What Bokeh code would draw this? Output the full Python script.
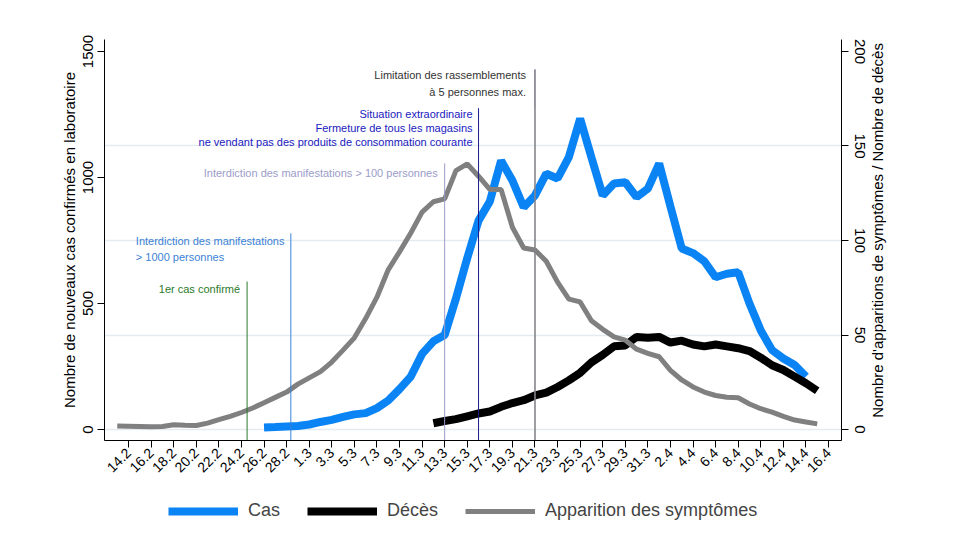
import math
import pandas as pd
from bokeh.plotting import figure
from bokeh.layouts import column, row
from bokeh.models import ColumnDataSource, Range1d, LinearAxis, FixedTicker, Legend, LegendItem
from bokeh.core.properties import value
from bokeh.embed import file_html
from bokeh.resources import INLINE

FONT = "Liberation Sans"

# ---------------- data ----------------
first_date = "2020-02-13"
last_date = "2020-04-15"
origin_date = "2020-02-14"

cas = [None] * 13 + [
    8, 10, 12, 14, 20, 30, 38, 50, 60, 65, 85, 115, 160, 210, 300, 350, 375,
    520, 680, 829, 905, 1067, 988, 882, 929, 1015, 996, 1081, 1234, 1080, 929,
    976, 981, 922, 956, 1055, 885, 718, 700, 668, 604, 618, 624, 500, 393, 315,
    282, 256, 210] + [None]

deces = [None] * 28 + [
    3.3, 4.5, 5.5, 7, 8.5, 9.5, 12, 14, 15.5, 18,
    19.5, 22.5, 26, 30, 35.5, 39.5, 44, 44.5, 49, 48.5,
    49, 46, 47, 45, 44, 45, 44, 43, 41.5, 38,
    34, 31.5, 28, 24.5, 20.5]

symptomes = [
    1.8, 1.7, 1.6, 1.5, 1.6, 2.5, 2.2, 2.1, 3.4, 5.2,
    7, 9, 11.4, 14.2, 17, 19.8, 24, 27.3, 30.6, 35.7,
    42, 48.5, 58.7, 70, 84.5, 94, 104, 115, 120.5, 122,
    137, 140.5, 134, 127, 127, 107, 96, 95, 89, 78,
    69, 67.5, 57.5, 53, 49, 47.3, 42.5, 40.3, 38.5, 31.3,
    26.2, 22.5, 19.8, 18, 17.1, 16.8, 13.5, 11, 9.2, 7,
    5, 4, 3]

tick_labels = ["14.2", "16.2", "18.2", "20.2", "22.2", "24.2", "26.2", "28.2",
               "1.3", "3.3", "5.3", "7.3", "9.3", "11.3", "13.3", "15.3",
               "17.3", "19.3", "21.3", "23.3", "25.3", "27.3", "29.3", "31.3",
               "2.4", "4.4", "6.4", "8.4", "10.4", "12.4", "14.4", "16.4"]

left_ticks = [0, 500, 1000, 1500]
right_ticks = [0, 50, 100, 150, 200]
grid_right_values = [0, 50, 100, 150]

left_title = "Nombre de nouveaux cas confirmés en laboratoire"
right_title = "Nombre d'apparitions de symptômes / Nombre de décès"

series_names = ["Cas", "Décès", "Apparition des symptômes"]
series_colors = ["#0a84f5", "black", "#808080"]
series_widths = [8, 8, 5]

event_dates = ["2020-02-24 12:00", "2020-02-28 09:00", "2020-03-13", "2020-03-16", "2020-03-21"]
event_tops = [587, 778, 1056, 1275, 1429]
event_colors = ["#2b7a2b", "#3b82d6", "#9c9cc9", "#1c1c8c", "#2e2e40"]

# ---------------- derived ----------------
dates = pd.date_range(first_date, last_date, freq="D")
origin = pd.Timestamp(origin_date)
day = [(d - origin).days for d in dates]
events_x = [(pd.Timestamp(e) - origin) / pd.Timedelta(days=1) for e in event_dates]

def nan(v):
    return [float("nan") if x is None else x for x in v]

src = ColumnDataSource(dict(day=day, cas=nan(cas), deces=nan(deces), sympt=nan(symptomes)))

RATIO = 7.5
y0, y1 = -43.6, 1547.6
p = figure(frame_width=737, frame_height=401, min_border_left=104, min_border_right=26,
           min_border_top=39, min_border_bottom=55,
           x_range=Range1d(-2.13, 63.15), y_range=Range1d(y0, y1),
           output_backend="svg", toolbar_location=None, background_fill_color="white",
           border_fill_color="white")
p.outline_line_color = None
p.extra_y_ranges = {"right": Range1d(y0 / RATIO, y1 / RATIO)}

# grid
p.xgrid.visible = False
p.ygrid.ticker = FixedTicker(ticks=[v * RATIO for v in grid_right_values])
p.ygrid.grid_line_color = "#e4ecef"
p.ygrid.grid_line_width = 1.5

# series
p.line("day", "cas", source=src, line_color=series_colors[0], line_width=series_widths[0])
p.line("day", "deces", source=src, line_color=series_colors[1], line_width=series_widths[1],
       y_range_name="right")
p.line("day", "sympt", source=src, line_color=series_colors[2], line_width=series_widths[2],
       y_range_name="right")

# event lines
p.segment(x0=events_x, y0=[y0] * len(events_x), x1=events_x, y1=event_tops,
          line_color=event_colors, line_width=1)
# lower part of the last line appears grey
p.segment(x0=[events_x[4]], y0=[y0], x1=[events_x[4]], y1=[event_tops[3]],
          line_color="#a4a4a4", line_width=1.2)

def ann(xs, ys, texts, color, align, xoff):
    p.text(x=xs, y=ys, text=texts, text_color=color, text_align=align, text_baseline="middle",
           text_font=value(FONT), text_font_size="11px", x_offset=xoff)

ann([events_x[0]], [557], ["1er cas confirmé"], "#2b7a2b", "right", -7)
ann([events_x[1]] * 2, [750, 683], ["Interdiction des manifestations", "> 1000 personnes"],
    "#3b82d6", "left", -155)
ann([events_x[2]], [1016], ["Interdiction des manifestations > 100 personnes"], "#9c9cc9", "right", -7)
ann([events_x[3]] * 3, [1253, 1196, 1140],
    ["Situation extraordinaire", "Fermeture de tous les magasins",
     "ne vendant pas des produits de consommation courante"], "#2020c0", "right", -6)
ann([events_x[4]] * 2, [1405, 1338], ["Limitation des rassemblements", "à 5 personnes max."],
    "#333333", "right", -9)

# axes
ax = p.xaxis[0]
ax.ticker = FixedTicker(ticks=list(range(0, 63, 2)))
ax.major_label_overrides = {t: lab for t, lab in zip(range(0, 63, 2), tick_labels)}
ax.major_label_orientation = math.pi / 4
ax.minor_tick_line_color = None
ax.major_tick_in = 0
ax.major_tick_out = 7
ax.major_label_text_font = FONT
ax.major_label_text_font_size = "14px"
ax.major_label_standoff = 3

ly = p.yaxis[0]
ly.ticker = FixedTicker(ticks=left_ticks)
ly.axis_label = left_title
ry = LinearAxis(y_range_name="right", ticker=FixedTicker(ticks=right_ticks))
p.add_layout(ry, "right")
for a in (ly, ry):
    a.major_label_orientation = "vertical"
    a.minor_tick_line_color = None
    a.major_tick_in = 0
    a.major_tick_out = 7
    a.major_label_text_font = FONT
    a.major_label_text_font_size = "15px"
    a.axis_label_text_font = FONT
    a.axis_label_text_font_size = "15px"
    a.axis_label_text_font_style = "normal"
    a.major_label_standoff = 4
    a.axis_label_standoff = 3
ry.major_label_standoff = 6
for a in (ax, ly, ry):
    a.axis_line_color = "black"
    a.major_tick_line_color = "black"
    a.major_label_text_color = "black"
    a.axis_label_text_color = "black"

# right-hand axis title, reading bottom to top, in a narrow strip beside the chart
rt = figure(frame_width=20, frame_height=401, min_border_left=0, min_border_right=0,
            min_border_top=39, min_border_bottom=55,
            x_range=Range1d(0, 1), y_range=Range1d(y0, y1),
            x_axis_type=None, y_axis_type=None, output_backend="svg", toolbar_location=None,
            background_fill_color="white", border_fill_color="white")
rt.outline_line_color = None
rt.grid.visible = False
rt.text(x=[0.5], y=[790], text=[right_title], angle=math.pi / 2, text_align="center",
        text_baseline="middle", text_font=value(FONT), text_font_size="15px", text_color="black")

# legend in its own strip below the chart (frame aligned with the chart frame)
lg = figure(width=954, height=32, min_border_left=104, min_border_right=113,
            min_border_top=0, min_border_bottom=0,
            x_range=Range1d(0, 1), y_range=Range1d(0, 1),
            x_axis_type=None, y_axis_type=None, output_backend="svg", toolbar_location=None,
            background_fill_color="white", border_fill_color="white")
lg.outline_line_color = None
lg.grid.visible = False
items = []
for name, col, w in zip(series_names, series_colors, series_widths):
    r = lg.line(x=[float("nan")], y=[float("nan")], line_color=col, line_width=w)
    items.append(LegendItem(label=name, renderers=[r]))
legend = Legend(items=items, orientation="horizontal", location=(64, 6))
legend.label_text_font = FONT
legend.label_text_font_size = "18px"
legend.glyph_width = 70
legend.glyph_height = 20
legend.label_height = 20
legend.label_standoff = 10
legend.spacing = 27
legend.padding = 0
legend.margin = 0
legend.border_line_color = None
legend.background_fill_alpha = 0
lg.add_layout(legend, "center")

layout = column(row(p, rt, spacing=0), lg, spacing=0)
open("out.html", "w").write(file_html(layout, INLINE))
